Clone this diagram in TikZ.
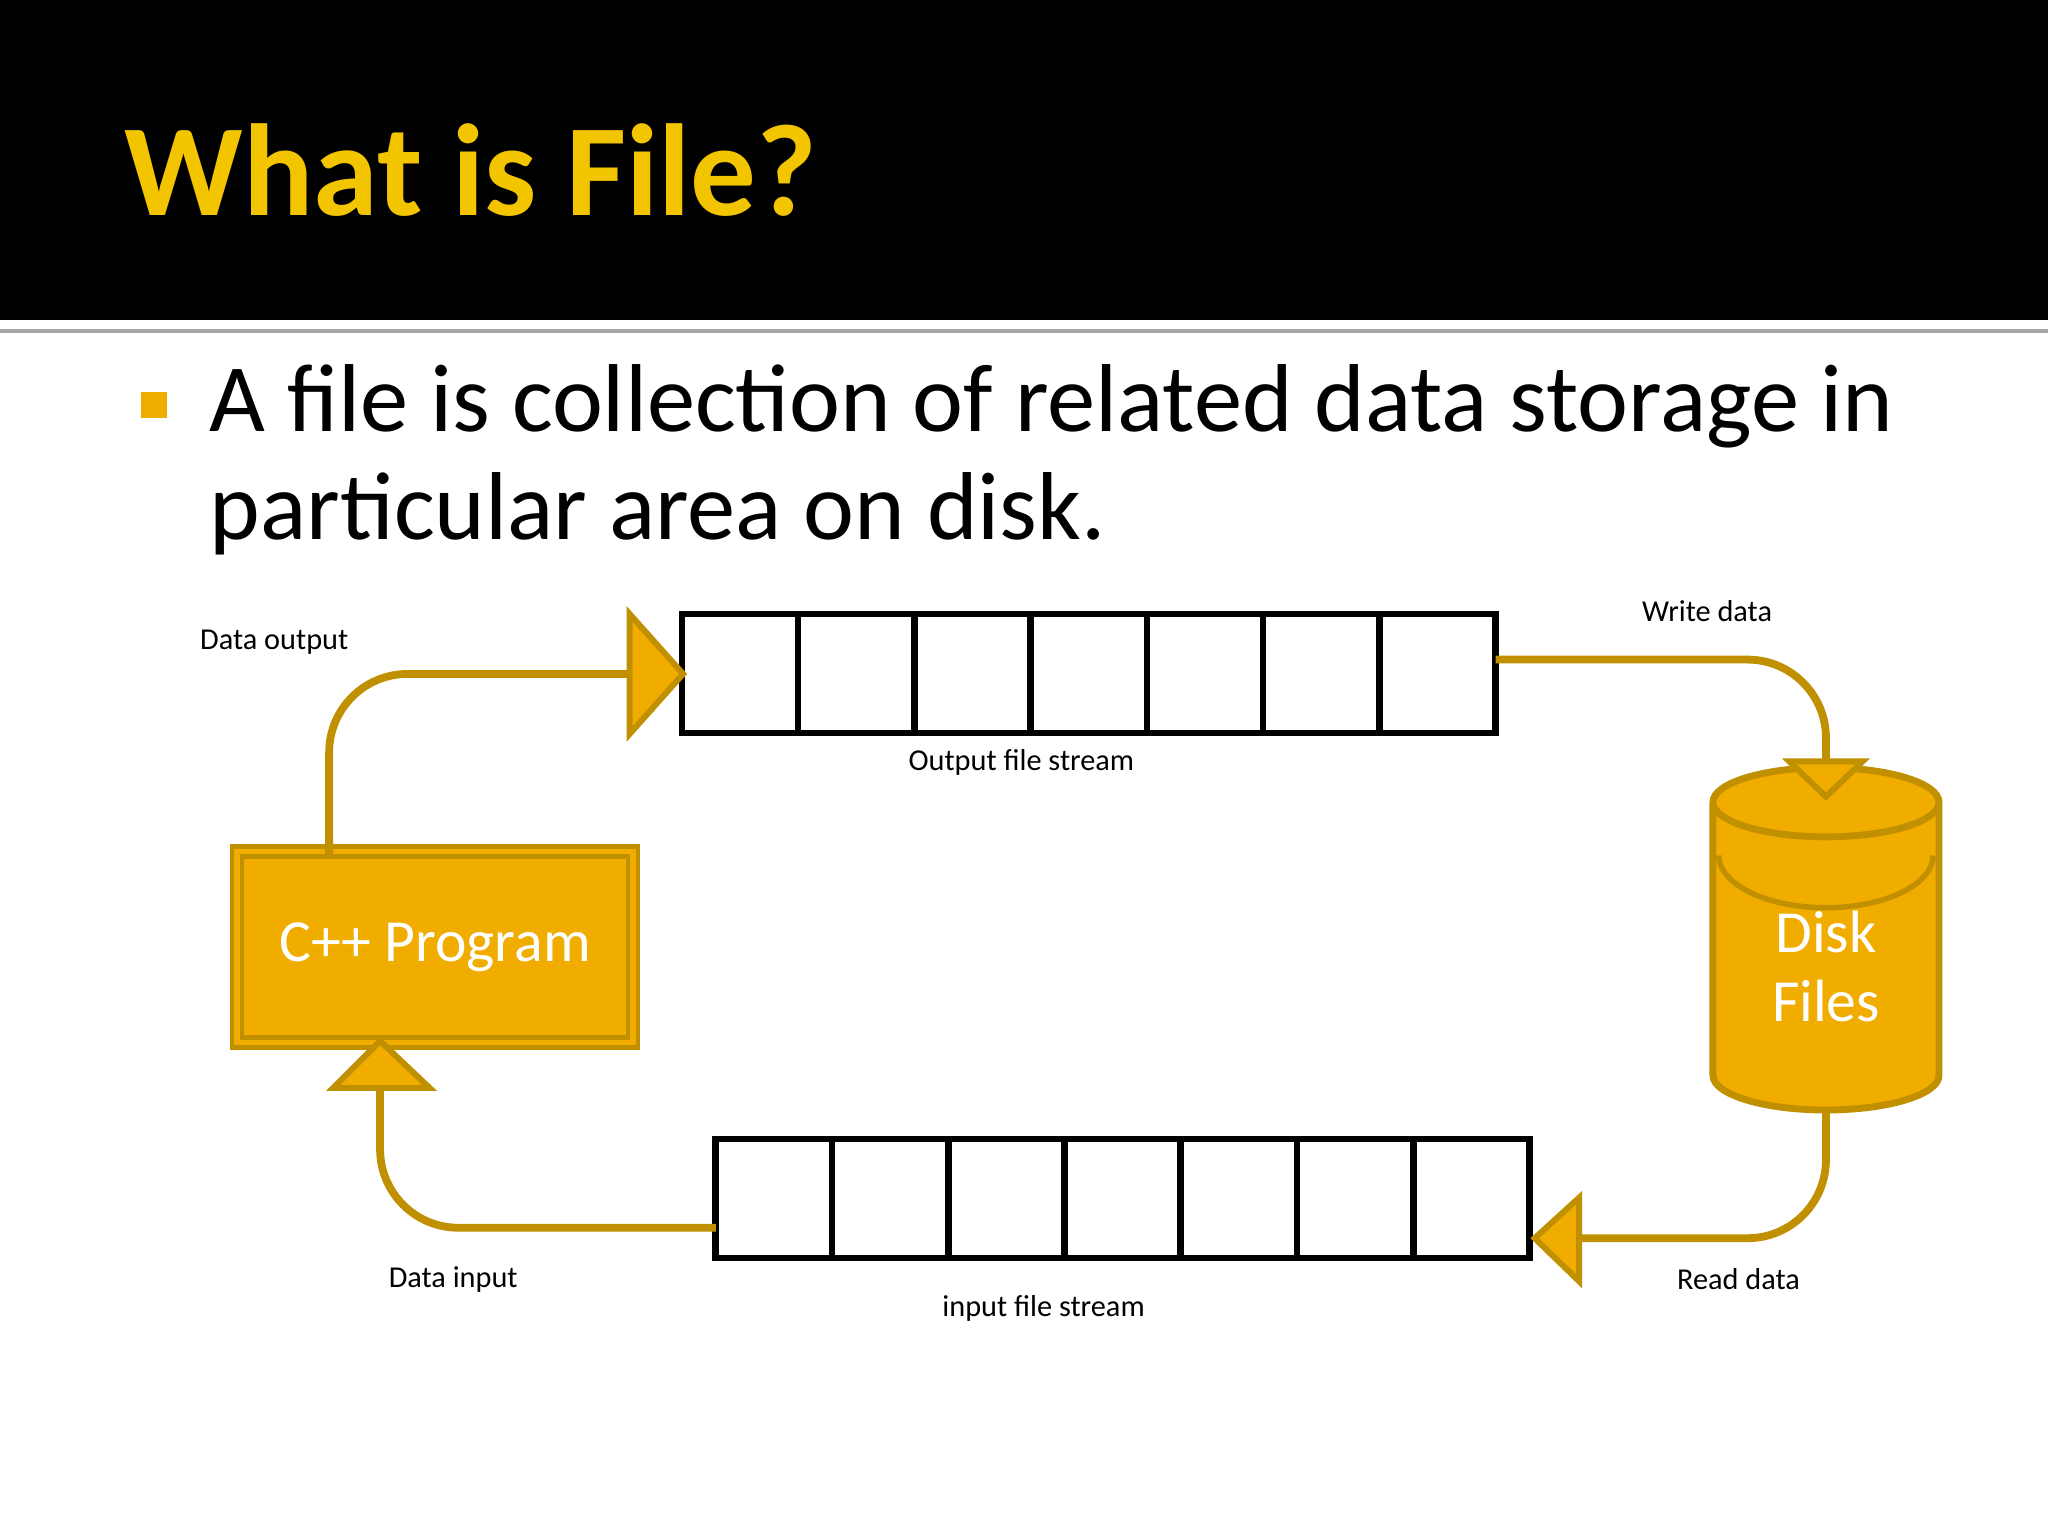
\documentclass[tikz,border=0pt]{standalone}
\usepackage{fontspec}
\setmainfont{Carlito}
\usetikzlibrary{shapes.geometric}
\definecolor{gold}{HTML}{F0AD00}
\definecolor{dgold}{HTML}{C09000}
\definecolor{ttl}{HTML}{F2C500}
\tikzset{
 cell/.style={draw=black,line width=0.5mm,minimum width=0.89cm,minimum height=0.91cm,inner sep=0,outer sep=0},
 conn/.style={draw=dgold,line width=1.7pt,rounded corners=0.6cm},
 tip/.style={fill=gold,draw=dgold,line width=1.3pt,line join=miter},
 lbl/.style={font=\fontsize{6.6pt}{8pt}\selectfont,text=black},
}
\begin{document}
\begin{tikzpicture}[x=0.01cm,y=-0.01cm]
\useasboundingbox (0,0) rectangle (1568,1176);
\fill[black] (0,0) rectangle (1568,245);
\fill[gray!70] (0,252) rectangle (1568,255);
\node[anchor=base west,inner sep=0,text=ttl,font=\fontsize{28.5pt}{30pt}\selectfont\bfseries] (title) at (95,165) {What is File?};
\node[fill=gold,minimum size=0.2cm,inner sep=0] (bul) at (118,310) {};
\node[anchor=base west,inner sep=0,font=\fontsize{21pt}{24pt}\selectfont,align=left] (t1) at (160,330) {A file is collection of related data storage in};
\node[anchor=base west,inner sep=0,font=\fontsize{21pt}{24pt}\selectfont] (t2) at (160,413) {particular area on disk.};
% output stream cells
\foreach \i in {0,...,6}{\node[cell,anchor=north west] (o\i) at ({522+89*\i},470) {};}
\foreach \i in {0,...,6}{\node[cell,anchor=north west] (n\i) at ({548+89*\i},872) {};}
% program
\node[fill=gold,draw=dgold,double=gold,double distance=1.2pt,line width=1pt,minimum width=3.03cm,minimum height=1.46cm,text=white,font=\fontsize{13pt}{15pt}\selectfont] (prog) at (333,725) {C++ Program};
% cylinder
\node[cylinder,shape border rotate=90,aspect=0.5,fill=gold,draw=dgold,line width=1.5pt,minimum width=1.73cm,minimum height=2.62cm,text=white,align=center,font=\fontsize{13pt}{15pt}\selectfont] (disk) at (1398,740) {Disk\\Files};
\draw[dgold,line width=1.2pt] (1316,655) arc[start angle=180,end angle=360,x radius=82,y radius=-40];
% connectors
\coordinate (a1) at (252,655);
\draw[conn] (a1) -- (252,516) -- (482,516);
\draw[tip] (482,470) -- (523,516) -- (482,562) -- cycle;
\draw[conn] (o6.east|-0,505) -- (1398,505) -- (1398,585);
\draw[tip] (1370,583) -- (1426,583) -- (1398,610) -- cycle;
\coordinate (b1) at (1398,852);
\draw[conn] (b1) -- (1398,948) -- (1208,948);
\draw[tip] (1209,917) -- (1209,981) -- (1175,948) -- cycle;
\draw[conn] (n0.west|-0,940) -- (291,940) -- (291,833);
\draw[tip] (255,833) -- (329,833) -- (291,797) -- cycle;
% labels
\node[lbl] (l1) at (210,492) {Data output};
\node[lbl] (l2) at (1307,468) {Write data};
\node[lbl] (l3) at (782,584) {Output file stream};
\node[lbl] (l4) at (1331,979) {Read data};
\node[lbl] (l5) at (347,980) {Data input};
\node[lbl] (l6) at (799,1002) {input file stream};
\end{tikzpicture}
\end{document}
